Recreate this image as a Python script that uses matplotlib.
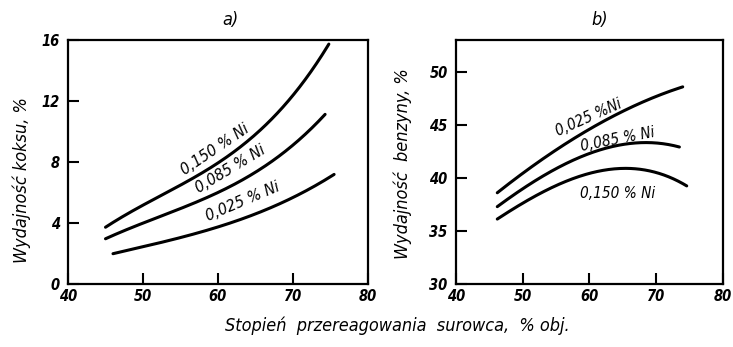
import numpy as np
import matplotlib.pyplot as plt

# coke yield (panel a)
xa_150 = [45, 50, 55, 60, 65, 70, 73, 74.8]
ya_150 = [3.8, 5.0, 6.4, 8.1, 10.0, 12.1, 14.1, 16.0]
xa_085 = [45, 50, 55, 60, 65, 70, 74.3]
ya_085 = [3.0, 3.9, 4.9, 6.1, 7.4, 8.9, 11.2]
xa_025 = [46, 50, 55, 60, 65, 70, 75.5]
ya_025 = [2.0, 2.4, 3.0, 3.8, 4.6, 5.6, 7.2]

# gasoline yield (panel b)
xb_025 = [46.2, 50, 55, 60, 65, 70, 74]
yb_025 = [38.6, 40.4, 42.6, 44.6, 46.3, 47.6, 48.6]
xb_085 = [46.2, 50, 55, 60, 65, 70, 73.5]
yb_085 = [37.3, 38.9, 40.9, 42.3, 43.1, 43.3, 42.9]
xb_150 = [46.2, 50, 55, 60, 65, 70, 74.6]
yb_150 = [36.1, 37.6, 39.3, 40.4, 40.8, 40.6, 39.2]

xticks = [40, 50, 60, 70, 80]
yticks_a = [0, 4, 8, 12, 16]
yticks_b = [30, 35, 40, 45, 50]

fnt = dict(family='DejaVu Sans', style='italic', stretch='condensed')
tickfnt = dict(family='DejaVu Sans', style='italic', weight='bold', stretch='condensed', size=10.5)

fig = plt.figure(figsize=(7.33, 3.47), dpi=100)
axa = fig.add_axes([0.0928, 0.182, 0.409, 0.703])
axb = fig.add_axes([0.622, 0.182, 0.364, 0.703])


def smooth(x, y):
    xs = np.linspace(x[0], x[-1], 200)
    c = np.polyfit(x, y, 3)
    return xs, np.polyval(c, xs)


for x, y in [(xa_150, ya_150), (xa_085, ya_085), (xa_025, ya_025)]:
    xs, ys = smooth(x, y)
    axa.plot(xs, ys, color='black', lw=2.2, solid_capstyle='round')
for x, y in [(xb_025, yb_025), (xb_085, yb_085), (xb_150, yb_150)]:
    xs, ys = smooth(x, y)
    axb.plot(xs, ys, color='black', lw=2.2, solid_capstyle='round')

axa.set_xlim(40, 80)
axa.set_ylim(0, 16)
axb.set_xlim(40, 80)
axb.set_ylim(30, 53)

for ax, yt in [(axa, yticks_a), (axb, yticks_b)]:
    ax.set_xticks(xticks)
    ax.set_yticks(yt)
    ax.set_xticklabels([str(v) for v in xticks], fontdict=tickfnt)
    ax.set_yticklabels([str(v) for v in yt], fontdict=tickfnt)
    ax.tick_params(direction='in', length=8, width=1.5)
    ax.tick_params(axis='y', pad=6)
    ax.tick_params(axis='x', pad=4)
    for s in ax.spines.values():
        s.set_linewidth(1.6)

axa.text(59.6, 8.8, '0,150 % Ni', rotation=34, ha='center', va='center', size=11.5, **fnt)
axa.text(61.6, 7.5, '0,085 % Ni', rotation=31, ha='center', va='center', size=11.5, **fnt)
axa.text(63.3, 5.4, '0,025 % Ni', rotation=23, ha='center', va='center', size=11.5, **fnt)
axb.text(59.9, 45.7, '0,025 %Ni', rotation=24, ha='center', va='center', size=11, **fnt)
axb.text(64.3, 43.6, '0,085 % Ni', rotation=11, ha='center', va='center', size=11, **fnt)
axb.text(64.3, 38.5, '0,150 % Ni', rotation=0, ha='center', va='center', size=11, **fnt)

fig.text(230 / 733, 1 - 20 / 347, 'a)', ha='center', va='center', size=13, **fnt)
fig.text(600 / 733, 1 - 20 / 347, 'b)', ha='center', va='center', size=13, **fnt)
fig.text(22 / 733, 1 - 180 / 347, 'Wydajność koksu, %', rotation=90, ha='center', va='center', size=13, **fnt)
fig.text(403 / 733, 1 - 164 / 347, 'Wydajność  benzyny, %', rotation=90, ha='center', va='center', size=13, **fnt)
fig.text(397 / 733, 1 - 326 / 347, 'Stopień  przereagowania  surowca,  % obj.', ha='center', va='center', size=13, **fnt)

fig.savefig('out.png', dpi=100)
